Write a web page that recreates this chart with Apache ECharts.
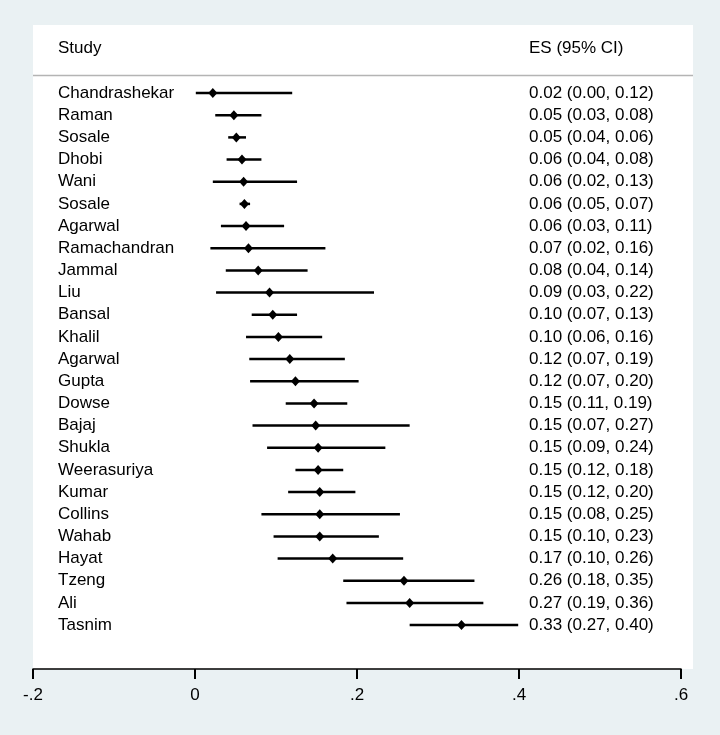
<!DOCTYPE html>
<html>
<head>
<meta charset="utf-8">
<script src="https://cdn.jsdelivr.net/npm/echarts@6/dist/echarts.min.js"></script>
<style>
html,body{margin:0;padding:0;background:#eaf1f3;}
#c{width:720px;height:735px;}
</style>
</head>
<body>
<div id="c"></div>
<script>
const studies = ["Chandrashekar","Raman","Sosale","Dhobi","Wani","Sosale","Agarwal","Ramachandran","Jammal","Liu","Bansal","Khalil","Agarwal","Gupta","Dowse","Bajaj","Shukla","Weerasuriya","Kumar","Collins","Wahab","Hayat","Tzeng","Ali","Tasnim"];
const es    = [0.022,0.048,0.051,0.058,0.060,0.061,0.063,0.066,0.078,0.092,0.096,0.103,0.117,0.124,0.147,0.149,0.152,0.152,0.154,0.154,0.154,0.170,0.258,0.265,0.329];
const lower = [0.001,0.025,0.041,0.039,0.022,0.055,0.032,0.019,0.038,0.026,0.070,0.063,0.067,0.068,0.112,0.071,0.089,0.124,0.115,0.082,0.097,0.102,0.183,0.187,0.265];
const upper = [0.120,0.082,0.063,0.082,0.126,0.068,0.110,0.161,0.139,0.221,0.126,0.157,0.185,0.202,0.188,0.265,0.235,0.183,0.198,0.253,0.227,0.257,0.345,0.356,0.399];
const esText = ["0.02 (0.00, 0.12)","0.05 (0.03, 0.08)","0.05 (0.04, 0.06)","0.06 (0.04, 0.08)","0.06 (0.02, 0.13)","0.06 (0.05, 0.07)","0.06 (0.03, 0.11)","0.07 (0.02, 0.16)","0.08 (0.04, 0.14)","0.09 (0.03, 0.22)","0.10 (0.07, 0.13)","0.10 (0.06, 0.16)","0.12 (0.07, 0.19)","0.12 (0.07, 0.20)","0.15 (0.11, 0.19)","0.15 (0.07, 0.27)","0.15 (0.09, 0.24)","0.15 (0.12, 0.18)","0.15 (0.12, 0.20)","0.15 (0.08, 0.25)","0.15 (0.10, 0.23)","0.17 (0.10, 0.26)","0.26 (0.18, 0.35)","0.27 (0.19, 0.36)","0.33 (0.27, 0.40)"];
const xTicks = [-0.2, 0, 0.2, 0.4, 0.6];
const xTickLabels = ["-.2","0",".2",".4",".6"];
const headerStudy = "Study";
const headerES = "ES (95% CI)";

const FONT = "'Liberation Sans', Arial, sans-serif";
const chart = echarts.init(document.getElementById('c'), null, {renderer:'canvas'});

const ciData = studies.map((s,i)=>[i, lower[i], es[i], upper[i]]);
const txtData = studies.map((s,i)=>[i, s, esText[i]]);

chart.setOption({
  backgroundColor: '#eaf1f3',
  animation: false,
  graphic: [
    {type:'rect', shape:{x:33,y:25,width:660,height:644}, style:{fill:'#ffffff'}, z:-10, silent:true},
    {type:'line', shape:{x1:33,y1:75.5,x2:693,y2:75.5}, style:{stroke:'#b4b4b4',lineWidth:1.5}, z:5},
    {type:'text', x:58, y:48, style:{text:headerStudy, font:"17px "+FONT, fill:'#000', verticalAlign:'middle'}, z:5},
    {type:'text', x:529, y:48, style:{text:headerES, font:"17px "+FONT, fill:'#000', verticalAlign:'middle'}, z:5}
  ],
  grid: {left:33, top:25, width:648, bottom:66, containLabel:false},
  xAxis: {
    type:'value', min:-0.2, max:0.6, interval:0.2, position:'bottom',
    axisLine:{show:true, onZero:false, lineStyle:{color:'#000', width:1.5}},
    axisTick:{show:true, length:10, lineStyle:{color:'#000', width:2}},
    splitLine:{show:false},
    axisLabel:{color:'#000', fontSize:17, fontFamily:FONT, margin:18,
      formatter:function(v){ const k = xTicks.findIndex(t=>Math.abs(t-v)<1e-9); return k>=0 ? xTickLabels[k] : ''; },
      showMinLabel:true, showMaxLabel:true}
  },
  yAxis: {
    type:'value', min:-3.07, max:25.98, inverse:true, show:false
  },
  series: [
    {
      type:'custom',
      data: ciData,
      encode:{y:0, x:[1,2,3]},
      renderItem: function(params, api){
        const i = api.value(0);
        const a = api.coord([api.value(1), i]);
        const p = api.coord([api.value(2), i]);
        const b = api.coord([api.value(3), i]);
        const rx = 4.5, ry = 5;
        return {type:'group', children:[
          {type:'line', shape:{x1:a[0],y1:a[1],x2:b[0],y2:b[1]}, style:{stroke:'#000',lineWidth:2.5}},
          {type:'polygon', shape:{points:[[p[0],p[1]-ry],[p[0]+rx,p[1]],[p[0],p[1]+ry],[p[0]-rx,p[1]]]}, style:{fill:'#000'}}
        ]};
      },
      z:3
    },
    {
      type:'custom',
      data: txtData,
      encode:{y:0},
      renderItem: function(params, api){
        const i = api.value(0);
        const y = api.coord([0, i])[1];
        return {type:'group', children:[
          {type:'text', x:58, y:y, style:{text:txtData[params.dataIndex][1], font:"17px "+FONT, fill:'#000', verticalAlign:'middle'}},
          {type:'text', x:529, y:y, style:{text:txtData[params.dataIndex][2], font:"17px "+FONT, fill:'#000', verticalAlign:'middle'}}
        ]};
      },
      clip:false,
      z:4
    }
  ]
});
</script>
</body>
</html>
